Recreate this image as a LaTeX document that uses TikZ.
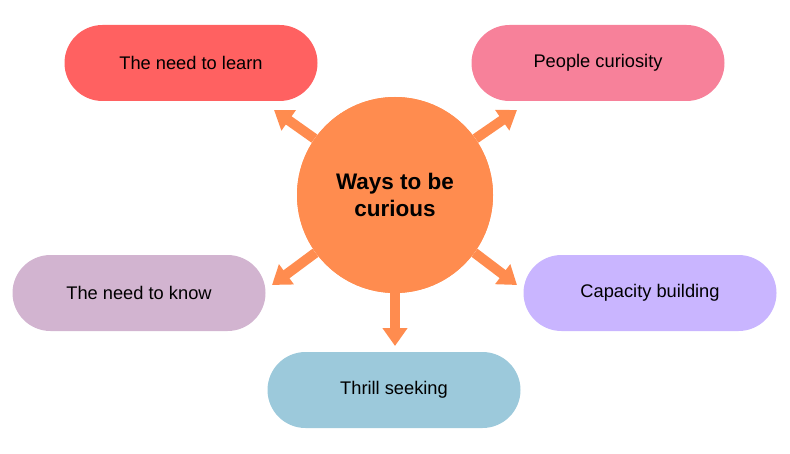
\documentclass[tikz,border=0pt]{standalone}
\usepackage{fontspec}
\setmainfont{Liberation Sans}
\usetikzlibrary{arrows.meta,positioning}
\definecolor{hubcol}{HTML}{FF8C4F}
\definecolor{learncol}{HTML}{FF6161}
\definecolor{peoplecol}{HTML}{F7819A}
\definecolor{knowcol}{HTML}{D2B4D0}
\definecolor{capcol}{HTML}{C9B5FF}
\definecolor{thrillcol}{HTML}{9CC9DB}
\begin{document}
\begin{tikzpicture}[
    pill/.style={rectangle, rounded corners=0.95cm, minimum width=6.325cm, minimum height=1.9cm, font=\fontsize{13}{15}\selectfont},
    hub/.style={circle, fill=hubcol, minimum size=4.9cm, align=center, font=\fontsize{16}{19}\selectfont\bfseries},
    arrow/.style={-{Triangle[width=0.6cm,length=0.45cm]}, line width=0.25cm, hubcol},
]
\useasboundingbox (0,0) rectangle (19.75,-11.35);

% Outer pills
\node[pill, fill=learncol] (learn) at (4.775,-1.575) {The need to learn};
\node[pill, fill=peoplecol] (people) at (14.95,-1.575) {People curiosity};
\node[pill, fill=knowcol] (know) at (3.475,-7.325) {The need to know};
\node[pill, fill=capcol] (cap) at (16.25,-7.325) {Capacity building};
\node[pill, fill=thrillcol] (thrill) at (9.85,-9.75) {Thrill seeking};

% Arrow ends
\coordinate (eLearn) at (6.85,-2.75);
\coordinate (ePeople) at (12.925,-2.75);
\coordinate (eKnow) at (6.8,-7.125);
\coordinate (eCap) at (12.925,-7.125);
\coordinate (eThrill) at (9.875,-8.65);

% Centre
\node[hub] (c) at (9.875,-4.875) {};
\draw[arrow] (c.145) -- (eLearn);
\draw[arrow] (c.35) -- (ePeople);
\draw[arrow] (c.216) -- (eKnow);
\draw[arrow] (c.324) -- (eCap);
\draw[arrow] ([yshift=0.1cm]c.south) -- (eThrill);
\node[hub] at (c) {Ways to be\\curious};

\end{tikzpicture}
\end{document}
